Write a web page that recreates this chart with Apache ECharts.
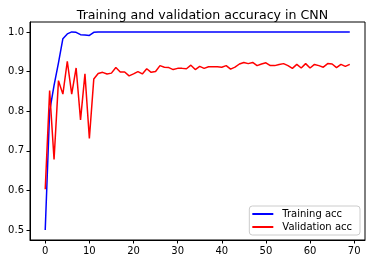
<!DOCTYPE html>
<html>
<head>
<meta charset="utf-8">
<script src="https://cdn.jsdelivr.net/npm/echarts@6/dist/echarts.min.js"></script>
<style>html,body{margin:0;padding:0;background:#fff}#c{width:375px;height:264px}</style>
</head>
<body>
<div id="c"></div>
<script>
const epochs = [0,1,2,3,4,5,6,7,8,9,10,11,12,13,14,15,16,17,18,19,20,21,22,23,24,25,26,27,28,29,30,31,32,33,34,35,36,37,38,39,40,41,42,43,44,45,46,47,48,49,50,51,52,53,54,55,56,57,58,59,60,61,62,63,64,65,66,67,68,69];
const trainingAcc = [0.500,0.800,0.865,0.922,0.983,0.995,1.000,0.999,0.993,0.992,0.991,0.999,1.000,1.000,1.000,1.000,1.000,1.000,1.000,1.000,1.000,1.000,1.000,1.000,1.000,1.000,1.000,1.000,1.000,1.000,1.000,1.000,1.000,1.000,1.000,1.000,1.000,1.000,1.000,1.000,1.000,1.000,1.000,1.000,1.000,1.000,1.000,1.000,1.000,1.000,1.000,1.000,1.000,1.000,1.000,1.000,1.000,1.000,1.000,1.000,1.000,1.000,1.000,1.000,1.000,1.000,1.000,1.000,1.000,1.000];
const validationAcc = [0.603,0.852,0.678,0.877,0.843,0.926,0.843,0.909,0.778,0.894,0.731,0.881,0.895,0.898,0.894,0.896,0.910,0.899,0.899,0.889,0.894,0.900,0.894,0.907,0.898,0.900,0.915,0.911,0.910,0.905,0.908,0.908,0.907,0.916,0.905,0.913,0.908,0.912,0.912,0.912,0.911,0.915,0.906,0.911,0.919,0.923,0.920,0.923,0.915,0.919,0.922,0.915,0.915,0.918,0.920,0.915,0.908,0.918,0.909,0.920,0.909,0.918,0.915,0.911,0.920,0.919,0.910,0.918,0.913,0.918];
const xTicks = [0,10,20,30,40,50,60,70];
const yTicks = [0.5,0.6,0.7,0.8,0.9,1.0];
const titleText = 'Training and validation accuracy in CNN';
const seriesNames = ['Training acc','Validation acc'];

const font = 'DejaVu Sans';
const chart = echarts.init(document.getElementById('c'), null, {renderer:'canvas'});
chart.setOption({
  animation:false,
  backgroundColor:'#fff',
  title:{text:titleText,left:197.5,textAlign:'center',top:4,textStyle:{fontFamily:font,fontSize:12.6,fontWeight:'normal',color:'#000'}},
  grid:{left:30,right:10,top:22,bottom:24,show:true,borderColor:'#000',borderWidth:1,backgroundColor:'transparent'},
  legend:{
    orient:'vertical',right:15,bottom:29,
    icon:'rect',itemWidth:21,itemHeight:2,itemGap:3,
    padding:[3,8,3,3],
    borderColor:'#ccc',borderWidth:1,borderRadius:3,backgroundColor:'rgba(255,255,255,0.8)',
    textStyle:{fontFamily:font,fontSize:10,color:'#000',padding:[0,0,0,4]},
    data:seriesNames
  },
  xAxis:{type:'value',min:-3.45,max:72.45,
    axisLine:{show:true,onZero:false,lineStyle:{color:'#000',width:1}},
    axisTick:{show:true,inside:false,length:3.5,lineStyle:{color:'#000'},customValues:xTicks},
    axisLabel:{fontFamily:font,fontSize:10,color:'#000',margin:6,customValues:xTicks},
    splitLine:{show:false}},
  yAxis:{type:'value',min:0.475,max:1.025,
    axisLine:{show:true,onZero:false,lineStyle:{color:'#000',width:1}},
    axisTick:{show:true,inside:false,length:3.5,lineStyle:{color:'#000'},customValues:yTicks},
    axisLabel:{fontFamily:font,fontSize:10,color:'#000',margin:6,customValues:yTicks,formatter:v=>v.toFixed(1)},
    splitLine:{show:false}},
  series:[
    {name:seriesNames[0],type:'line',data:epochs.map((e,i)=>[e,trainingAcc[i]]),showSymbol:false,symbol:'none',lineStyle:{color:'#0000ff',width:1.5},itemStyle:{color:'#0000ff'}},
    {name:seriesNames[1],type:'line',data:epochs.map((e,i)=>[e,validationAcc[i]]),showSymbol:false,symbol:'none',lineStyle:{color:'#ff0000',width:1.5},itemStyle:{color:'#ff0000'}}
  ]
});
</script>
</body>
</html>
